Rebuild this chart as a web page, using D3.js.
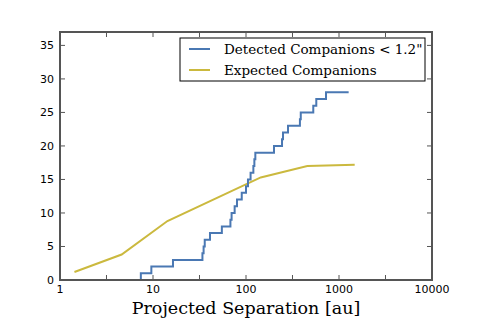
<!DOCTYPE html>
<html>
<head>
<meta charset="utf-8">
<script src="https://cdn.jsdelivr.net/npm/d3@7"></script>
<style>
  body { margin: 0; background: #fff; }
  svg { display: block; }
</style>
</head>
<body>
<div id="chart"></div>
<script>
// separations (au) at which the cumulative detected count goes up by one
const detectedSep = [7.4, 9.6, 16.4, 34, 35, 36, 41, 55, 68, 70, 75.5, 80, 90, 100,
  105, 112, 120, 123, 126, 200, 244, 250, 283, 380, 388, 529, 570, 725];
const detectedEnd = 1270;

// expected companions curve
const expectedSep = [1.43, 4.6, 14.3, 144, 456, 1475];
const expectedVal = [1.2, 3.8, 8.8, 15.3, 17.0, 17.2];

const xTicks = [1, 10, 100, 1000, 10000];
const xMinor = [3.162, 31.62, 316.2, 3162];
const yTicks = [0, 5, 10, 15, 20, 25, 30, 35];

const width = 480, height = 320;
const margin = {top: 32, right: 48, bottom: 40, left: 60};

const svg = d3.select("#chart").append("svg")
    .attr("width", width)
    .attr("height", height);

const x = d3.scaleLog()
    .domain([1, 10000])
    .range([margin.left, width - margin.right]);

const y = d3.scaleLinear()
    .domain([0, 37])
    .range([height - margin.bottom, margin.top]);

// build the step line from the sorted separations
let stepPts = [];
detectedSep.forEach(function(s, i) {
  stepPts.push([s, i]);
  stepPts.push([s, i + 1]);
});
stepPts.push([detectedEnd, detectedSep.length]);

const line = d3.line()
    .x(d => x(d[0]))
    .y(d => y(d[1]));

const expPts = expectedSep.map((s, i) => [s, expectedVal[i]]);

const blue = "#4a78b3";
const yellow = "#cbb93e";

svg.append("path")
    .datum(expPts)
    .attr("d", line)
    .attr("fill", "none")
    .attr("stroke", yellow)
    .attr("stroke-width", 2);

svg.append("path")
    .datum(stepPts)
    .attr("d", line)
    .attr("fill", "none")
    .attr("stroke", blue)
    .attr("stroke-width", 2);

// ticks, drawn inward on all four sides
const axisColor = "#555";
const tl = 5;
const x0 = x.range()[0], x1 = x.range()[1];
const y0 = y.range()[0], y1 = y.range()[1];

const ticks = svg.append("g").attr("stroke", axisColor).attr("stroke-width", 1);
xTicks.concat(xMinor).forEach(function(t) {
  ticks.append("line").attr("x1", x(t)).attr("x2", x(t)).attr("y1", y0).attr("y2", y0 - tl);
  ticks.append("line").attr("x1", x(t)).attr("x2", x(t)).attr("y1", y1).attr("y2", y1 + tl);
});
yTicks.forEach(function(t) {
  ticks.append("line").attr("x1", x0).attr("x2", x0 + tl).attr("y1", y(t)).attr("y2", y(t));
  ticks.append("line").attr("x1", x1).attr("x2", x1 - tl).attr("y1", y(t)).attr("y2", y(t));
});

svg.append("rect")
    .attr("x", x0).attr("y", y1)
    .attr("width", x1 - x0).attr("height", y0 - y1)
    .attr("fill", "none")
    .attr("stroke", axisColor)
    .attr("stroke-width", 2);

svg.selectAll("text.xt")
  .data(xTicks)
  .enter().append("text")
    .attr("class", "xt")
    .attr("x", d => x(d))
    .attr("y", y0 + 13)
    .attr("text-anchor", "middle")
    .style("font-family", "DejaVu Sans")
    .style("font-size", "11px")
    .text(d => d);

svg.selectAll("text.yt")
  .data(yTicks)
  .enter().append("text")
    .attr("class", "yt")
    .attr("x", x0 - 6)
    .attr("y", d => y(d) + 4)
    .attr("text-anchor", "end")
    .style("font-family", "DejaVu Sans")
    .style("font-size", "11px")
    .text(d => d);

svg.append("text")
    .attr("x", (x0 + x1) / 2)
    .attr("y", 314)
    .attr("text-anchor", "middle")
    .style("font-family", "DejaVu Serif")
    .style("font-size", "17.5px")
    .text("Projected Separation [au]");

// legend
const legendItems = [
  {name: "Detected Companions < 1.2\"", color: blue},
  {name: "Expected Companions", color: yellow}
];
const lg = svg.append("g");
lg.append("rect")
    .attr("x", 180).attr("y", 38)
    .attr("width", 245).attr("height", 43)
    .attr("fill", "#fff")
    .attr("stroke", "#000")
    .attr("stroke-width", 1);
legendItems.forEach(function(d, i) {
  const cy = 49 + i * 21;
  lg.append("line")
      .attr("x1", 189).attr("x2", 210)
      .attr("y1", cy).attr("y2", cy)
      .attr("stroke", d.color)
      .attr("stroke-width", 2);
  lg.append("text")
      .attr("x", 224)
      .attr("y", cy + 5)
      .style("font-family", "DejaVu Serif")
      .style("font-size", "13.5px")
      .text(d.name);
});
</script>
</body>
</html>
